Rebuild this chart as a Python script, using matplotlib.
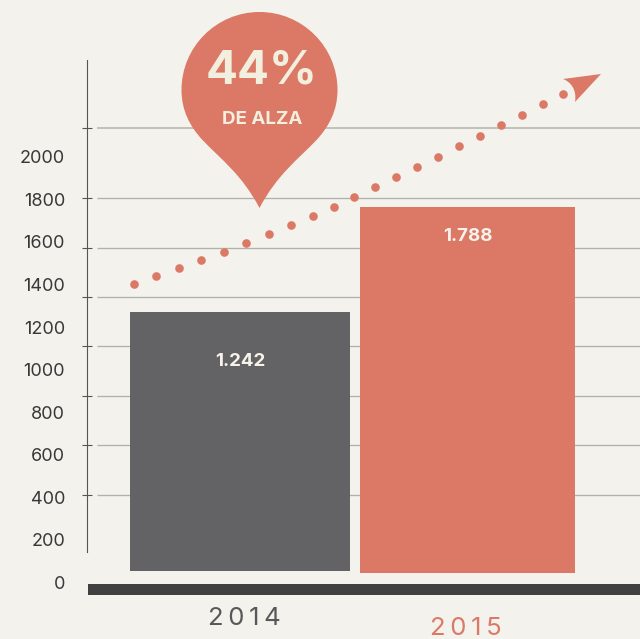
import matplotlib
matplotlib.use('Agg')
import matplotlib.pyplot as plt
from matplotlib.path import Path
from matplotlib.patches import PathPatch

# Data

years = ['2014', '2015']
bar_labels = ['1.242', '1.788']
bar_left = [130, 360]
bar_width = [220, 215]
bar_bottom = [52, 42]     # bars do not sit on the axis in the original
bar_top = [1270, 1765]    # read against the printed scale
label_level = [1036, 1624]

scale_ticks = [0, 200, 400, 600, 800, 1000, 1200, 1400, 1600, 1800, 2000]
grid_levels = [409, 645, 875, 1111, 1341, 1574, 1807, 2136]

trend_x = [134, 156, 179, 201, 224, 246, 269, 291, 313, 334, 354,
           375, 396, 417, 438, 459, 480, 501, 522, 543, 563]
trend_y = [1402, 1440, 1478, 1515, 1553, 1595, 1638, 1680, 1722, 1765, 1812,
           1859, 1906, 1953, 2000, 2052, 2099, 2151, 2198, 2249, 2296]

SALMON = '#dc7966'
GREY = '#636365'
DARK = '#404040'
PAPER = '#f4f2ec'
CREAM = '#f3efdf'

plt.rcParams['font.family'] = ['Inter', 'DejaVu Sans']

fig = plt.figure(figsize=(6.40, 6.39), dpi=100, facecolor=PAPER)

# Main axes: x in pixels, y in chart units
ax = fig.add_axes([0, 0, 1, 1], facecolor=PAPER)
ax.set_xlim(0, 640)
ax.set_ylim(-268.2, 2738.8)

for s in ['top', 'right', 'bottom']:
	ax.spines[s].set_visible(False)
ax.spines['left'].set_position(('data', 87))
ax.spines['left'].set_bounds(141, 2456)
ax.spines['left'].set_color('#555555')
ax.spines['left'].set_linewidth(0.8)

ax.set_xticks([])
ax.set_yticks(scale_ticks)
ax.set_yticks(grid_levels, minor=True)
ax.tick_params(axis='y', which='major', length=0, pad=15.8, labelsize=13, labelcolor='#383838')
ax.tick_params(axis='y', which='minor', length=6.5, width=0.8, direction='inout', color='#555555')

# grid
for i, g in enumerate(grid_levels):
	top = i == len(grid_levels) - 1
	ax.hlines(g, 97, 640, color='#b9b9b4' if top else '#b0b0ac', lw=1.2 if top else 0.95, zorder=1)

# bars
heights = [t - b for t, b in zip(bar_top, bar_bottom)]
ax.bar(bar_left, heights, width=bar_width, bottom=bar_bottom, align='edge',
	color=[GREY, SALMON], zorder=2)

for i in range(2):
	cx = bar_left[i] + bar_width[i] / 2
	ax.text(cx, label_level[i], bar_labels[i], ha='center', va='center',
		color='#f7f3ea', fontsize=13.5, fontweight='bold', zorder=4)

# base line
ax.fill_between([88, 640], (582 - 595) / 0.2125, (582 - 584) / 0.2125, color=DARK, lw=0, zorder=2)

# dotted trend
ax.plot(trend_x, trend_y, 'o', color=SALMON, ms=6.2, mew=0, zorder=3)

# year labels
ax.text(244, (582 - 618) / 0.2125, '\u2009'.join(years[0]), ha='center', va='center',
	color='#58585a', fontsize=18.5)
ax.text(466, (582 - 628) / 0.2125, '\u2009'.join(years[1]), ha='center', va='center',
	color=SALMON, fontsize=18.5)

# Overlay in pixel coordinates for the balloon and arrow head
deco = fig.add_axes([0, 0, 1, 1], facecolor='none')
deco.set_xlim(0, 640)
deco.set_ylim(639, 0)
deco.axis('off')

cx, cy, r = 259.5, 90, 78
k = 0.5523 * r
verts = [(cx, cy - r),
	(cx + k, cy - r), (cx + r, cy - k), (cx + r, cy),
	(cx + r, cy + 20), (cx + 70, cy + 36), (cx + 57, cy + 50),
	(cx + 38, cy + 70), (cx + 18, cy + 84), (cx, cy + 118),
	(cx - 18, cy + 84), (cx - 38, cy + 70), (cx - 57, cy + 50),
	(cx - 70, cy + 36), (cx - r, cy + 20), (cx - r, cy),
	(cx - r, cy - k), (cx - k, cy - r), (cx, cy - r)]
codes = [Path.MOVETO] + [Path.CURVE4] * 18
deco.add_patch(PathPatch(Path(verts, codes), fc=SALMON, ec='none'))

deco.text(262, 71.5, '44%', ha='center', va='center', color=CREAM, fontsize=34, fontweight='bold')
deco.text(262, 119, 'DE ALZA', ha='center', va='center', color=CREAM, fontsize=13.5, fontweight='bold')

head = [(601, 74), (563, 79), (571, 82), (577, 90), (575, 102), (601, 74)]
head_codes = [Path.MOVETO, Path.LINETO, Path.CURVE4, Path.CURVE4, Path.CURVE4, Path.CLOSEPOLY]
deco.add_patch(PathPatch(Path(head, head_codes), fc=SALMON, ec='none'))

fig.savefig('out.png', dpi=100, facecolor=PAPER)
